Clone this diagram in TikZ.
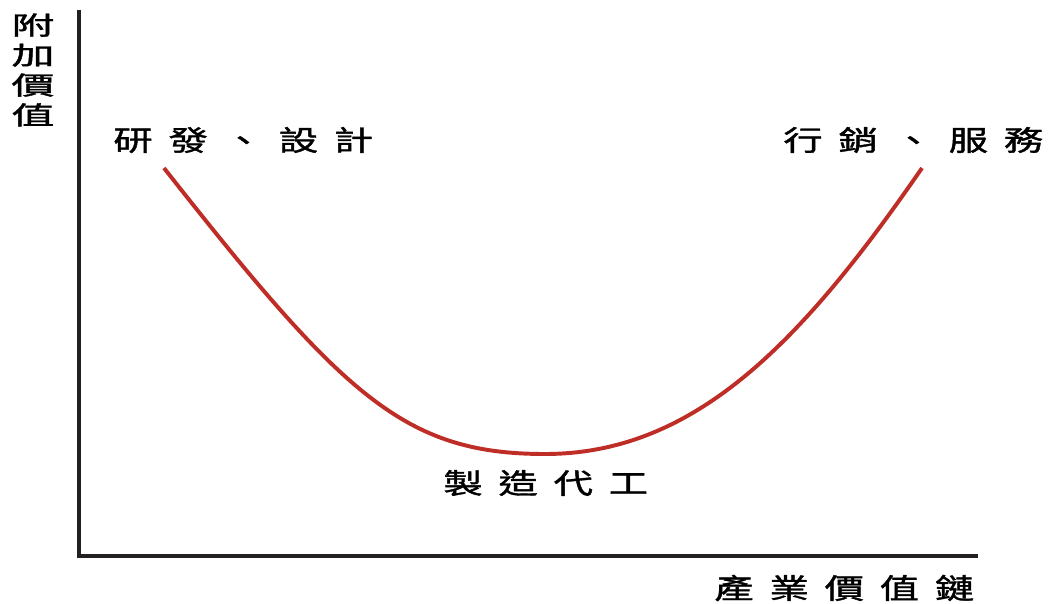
\documentclass[tikz,border=0pt]{standalone}
\usepackage{fontspec}
\newfontfamily\cjk{Noto Sans CJK TC}[FakeBold=1.2]
\definecolor{curvered}{RGB}{190,46,38}
\definecolor{axisgray}{RGB}{35,32,34}
\begin{document}
\begin{tikzpicture}[x=0.025cm, y=-0.025cm,
    axis/.style={line width=3.4pt, color=axisgray},
    smile/.style={line width=2.8pt, color=curvered},
    lbl/.style={inner sep=0pt, anchor=west, xscale=1.4,
      font=\cjk\addfontfeature{LetterSpace=40}\fontsize{20}{24}\selectfont},
    vlbl/.style={inner sep=0pt, align=center, xscale=1.7,
      font=\cjk\fontsize{18}{21.3}\selectfont}]
  \useasboundingbox (0,0) rectangle (1052,604);
  % Axes
  \draw[axis] (79,10) -- (79,556) -- (978,556);
  \node[vlbl] (yaxis) at (33,70) {附\\加\\價\\值};
  \node[lbl] (xaxis) at (714,588) {產業價值鏈};
  % Smile curve
  \coordinate (lefttop) at (164,168);
  \coordinate (bottom) at (545,454);
  \coordinate (righttop) at (922,168);
  \draw[smile] (lefttop) .. controls (344,397) and (405,454) .. (bottom)
    .. controls (695,454) and (802,342) .. (righttop);
  % Stage labels
  \node[lbl] (rd) at (113,140) {研發、設計};
  \node[lbl] (mkt) at (783,140) {行銷、服務};
  \node[lbl] (mfg) at (443,483) {製造代工};
\end{tikzpicture}
\end{document}
